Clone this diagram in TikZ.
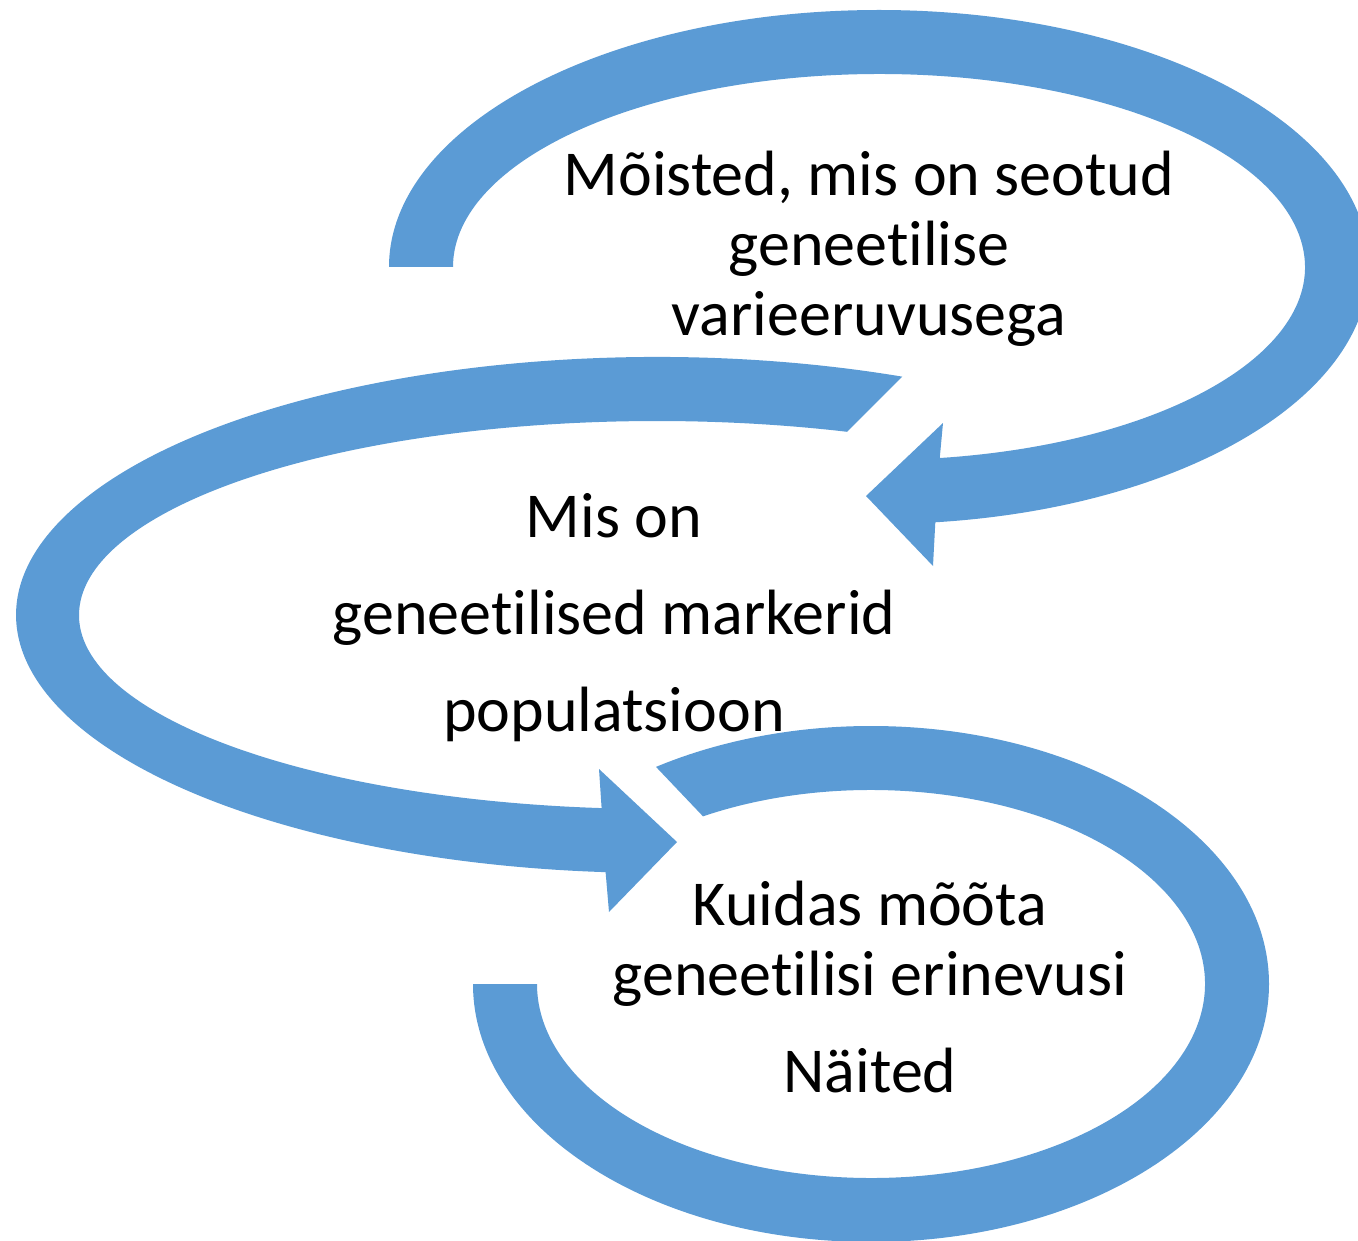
\documentclass[tikz,border=0pt]{standalone}
\usepackage{fontspec}
\setmainfont{Carlito}[Ligatures=NoCommon]
\usetikzlibrary{calc}
\definecolor{ringblue}{RGB}{91,155,213}
\tikzset{ring/.style={fill=ringblue,draw=none},
  lbl/.style={font=\fontsize{64}{70}\selectfont,anchor=base,inner sep=0pt}}

\begin{document}
\begin{tikzpicture}[x=1pt,y=-1pt]
\useasboundingbox (0,0) rectangle (1358,1241);
\clip (0,0) rectangle (1358,1241);
\coordinate (c1) at (879,267);
\coordinate (c2) at (657,615);
\coordinate (c3) at (871,984);
\fill[ring] ($(c1)+(180:490 and 257)$) arc[start angle=180,end angle=443.4,x radius=490,y radius=257]
  -- (933,566) -- (866,496) -- (943,423)
  -- ($(c1)+(441.8:426 and 193)$) arc[start angle=441.8,end angle=180,x radius=426,y radius=193] -- cycle;
\fill[ring] ($(c2)+(292.5:641 and 258)$) arc[start angle=292.5,end angle=94.6,x radius=641,y radius=258]
  -- (609,912) -- (677,842) -- (599,769)
  -- ($(c2)+(95.5:578 and 194)$) arc[start angle=95.5,end angle=289.2,x radius=578,y radius=194] -- cycle;
\fill[ring] ($(c3)+(180:398 and 258)$) arc[start angle=180,end angle=-122.7,x radius=398,y radius=258]
  -- ($(c3)+(-120.2:334 and 194)$) arc[start angle=-120.2,end angle=180,x radius=334,y radius=194] -- cycle;
\node[lbl] (moisted) at (869,196) {Mõisted, mis on seotud};
\node[lbl] (geneetilise) at (869,266) {geneetilise};
\node[lbl] (varieeruvus) at (869,336) {varieeruvusega};
\node[lbl] (mison) at (614,537) {Mis on};
\node[lbl] (markerid) at (614,634) {geneetilised markerid};
\node[lbl] (populatsioon) at (614,731) {populatsioon};
\node[lbl] (kuidas) at (870,925) {Kuidas mõõta};
\node[lbl] (erinevusi) at (870,995) {geneetilisi erinevusi};
\node[lbl] (naited) at (870,1092) {Näited};
\end{tikzpicture}
\end{document}
